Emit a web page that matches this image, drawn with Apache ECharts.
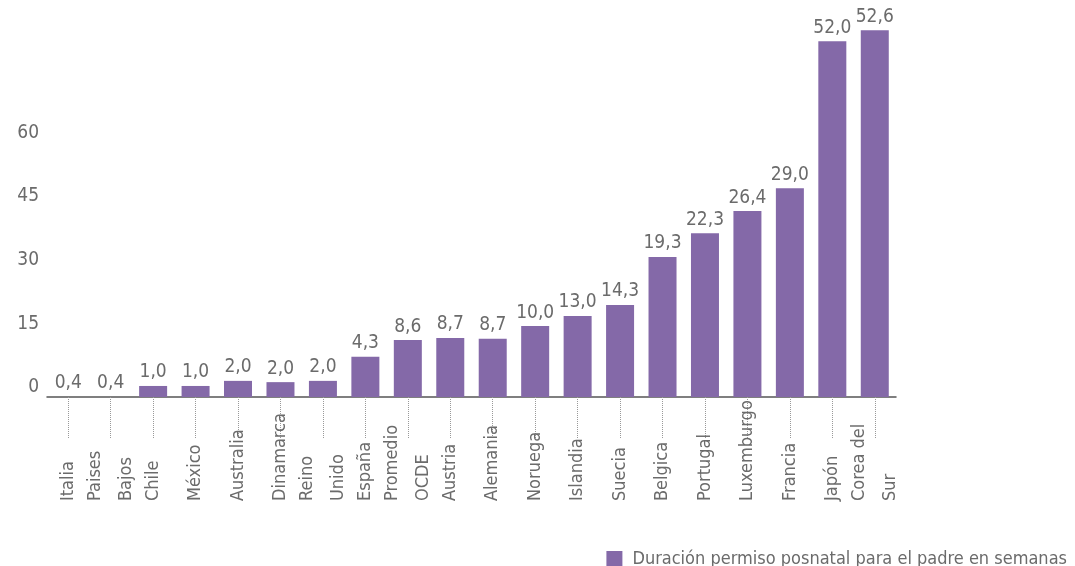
<!DOCTYPE html>
<html>
<head>
<meta charset="utf-8">
<script src="https://cdn.jsdelivr.net/npm/echarts@6/dist/echarts.min.js"></script>
<style>
  html, body { margin: 0; padding: 0; background: #fff; }
  #chart { width: 1075px; height: 566px; }
</style>
</head>
<body>
<div id="chart"></div>
<script>
// categories, left to right
const countries = ['Italia', 'Paises\nBajos', 'Chile', 'México', 'Australia', 'Dinamarca', 'Reino\nUnido',
  'España', 'Promedio\nOCDE', 'Austria', 'Alemania', 'Noruega', 'Islandia', 'Suecia', 'Belgica',
  'Portugal', 'Luxemburgo', 'Francia', 'Japón', 'Corea del\nSur'];
// weeks printed above each bar
const weeks = [0.4, 0.4, 1.0, 1.0, 2.0, 2.0, 2.0, 4.3, 8.6, 8.7, 8.7, 10.0, 13.0, 14.3, 19.3, 22.3, 26.4, 29.0, 52.0, 52.6];
// bar heights as drawn against the axis (the source graphic does not scale bars to the labels)
const drawn = [0, 0, 2.6, 2.6, 3.8, 3.5, 3.8, 9.5, 13.4, 13.9, 13.7, 16.7, 19.1, 21.7, 33.0, 38.6, 43.8, 49.2, 83.8, 86.4];
const yTicks = [0, 15, 30, 45, 60];
const seriesName = 'Duración permiso posnatal para el padre en semanas';

const font = "'DejaVu Sans Condensed', 'Roboto', sans-serif";
const grey = '#6b6b6b';
const purple = '#8469a8';

const chart = echarts.init(document.getElementById('chart'));

chart.setOption({
  animation: false,
  textStyle: { fontFamily: font },
  grid: { left: 47, right: 179, top: 15, bottom: 169 },
  legend: {
    right: 3, top: 545,
    itemWidth: 16, itemHeight: 16, itemGap: 10,
    icon: 'rect',
    textStyle: { fontFamily: font, fontSize: 18, color: grey, padding: [0, 0, 0, 5] },
    data: [seriesName]
  },
  xAxis: {
    type: 'category',
    data: countries,
    axisLine: { lineStyle: { color: '#555', width: 1.5 } },
    axisTick: { show: true, alignWithLabel: true, length: 42, lineStyle: { type: 'dotted', color: '#999' } },
    axisLabel: {
      rotate: 90, interval: 0, margin: 104, align: 'left',
      fontFamily: font, fontSize: 18, color: grey, lineHeight: 31
    }
  },
  yAxis: {
    type: 'value',
    min: 0, max: 90, interval: 15,
    splitLine: { show: false },
    axisLine: { show: false },
    axisTick: { show: false },
    axisLabel: {
      fontFamily: font, fontSize: 19, color: grey, margin: 8, verticalAlign: 'bottom',
      formatter: v => yTicks.includes(v) ? String(v) : ''
    }
  },
  series: [{
    name: seriesName,
    type: 'bar',
    data: drawn,
    barWidth: 28,
    itemStyle: { color: purple },
    label: {
      show: true, position: 'top', distance: 4,
      fontFamily: font, fontSize: 19, color: grey,
      formatter: p => weeks[p.dataIndex].toFixed(1).replace('.', ',')
    }
  }]
});
</script>
</body>
</html>
